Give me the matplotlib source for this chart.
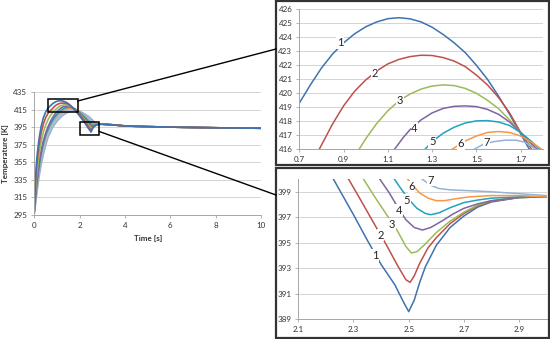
import matplotlib
matplotlib.use('Agg')
import matplotlib.pyplot as plt
from matplotlib.patches import Rectangle
from matplotlib.lines import Line2D

plt.rcParams['font.family'] = ['Lato', 'DejaVu Sans']

# ---------------- data ----------------
t1 = [0, 0.05, 0.1, 0.15, 0.2, 0.3, 0.4, 0.5, 0.6, 0.7, 0.75, 0.8, 0.85, 0.9, 0.95, 1.0, 1.05, 1.1, 1.15,
      1.2, 1.25, 1.3, 1.35, 1.4, 1.45, 1.5, 1.55, 1.6, 1.65, 1.7, 1.75, 1.8, 1.9, 2.0, 2.1, 2.227, 2.3,
      2.35, 2.4, 2.45, 2.48, 2.5, 2.52, 2.54, 2.56, 2.6, 2.65, 2.7, 2.75, 2.8, 2.9, 3.0, 3.5, 4, 5, 6, 8, 10]
T1 = [301, 335, 356, 369, 380, 396, 406, 412.5, 416.8, 419.3, 420.6, 421.8, 422.8, 423.6, 424.25, 424.75,
      425.1, 425.33, 425.4, 425.32, 425.1, 424.72, 424.2, 423.6, 422.9, 422.0, 421.0, 419.8, 418.5, 417.1,
      415.7, 414.3, 411.2, 408.0, 404.6, 400, 397.2, 395.2, 393.3, 391.7, 390.4, 389.6, 390.5, 391.9,
      393.1, 394.8, 396.2, 397.1, 397.8, 398.2, 398.55, 398.6, 397.8, 396.6, 395.8, 395.3, 394.5, 394.0]

t2 = [0, 0.05, 0.1, 0.2, 0.3, 0.4, 0.5, 0.6, 0.7, 0.79, 0.85, 0.9, 0.95, 1.0, 1.05, 1.1, 1.15, 1.2, 1.25,
      1.3, 1.35, 1.4, 1.45, 1.5, 1.55, 1.6, 1.65, 1.7, 1.75, 1.8, 1.9, 2.0, 2.1, 2.2, 2.282, 2.33, 2.38,
      2.42, 2.46, 2.49, 2.505, 2.52, 2.54, 2.57, 2.6, 2.65, 2.7, 2.75, 2.8, 2.9, 3.0, 3.5, 4, 5, 6, 8, 10]
T2 = [300.5, 332, 350, 373, 388.5, 399, 406, 410.8, 414, 416, 417.8, 419.1, 420.15, 420.95, 421.6, 422.1,
      422.42, 422.62, 422.72, 422.7, 422.55, 422.3, 421.9, 421.3, 420.6, 419.7, 418.6, 417.2, 416.0, 414.7,
      412.5, 409.8, 406.5, 403.0, 400, 398.2, 396.3, 394.8, 393.2, 392.1, 391.9, 392.4, 393.4, 394.6,
      395.4, 396.5, 397.3, 397.9, 398.25, 398.55, 398.6, 397.8, 396.6, 395.8, 395.3, 394.5, 394.0]

t3 = [0, 0.05, 0.1, 0.2, 0.3, 0.4, 0.5, 0.6, 0.7, 0.8, 0.9, 0.97, 1.0, 1.05, 1.1, 1.15, 1.2, 1.25, 1.3,
      1.35, 1.4, 1.45, 1.5, 1.55, 1.6, 1.65, 1.7, 1.75, 1.8, 1.9, 2.0, 2.1, 2.2, 2.3, 2.336, 2.38, 2.42,
      2.46, 2.49, 2.51, 2.53, 2.56, 2.6, 2.65, 2.7, 2.75, 2.8, 2.9, 3.0, 3.5, 4, 5, 6, 8, 10]
T3 = [300, 324, 340, 362.5, 378.5, 389.5, 397.5, 403.5, 408, 411.6, 414.4, 416, 416.75, 417.85, 418.75,
      419.45, 419.95, 420.3, 420.52, 420.6, 420.55, 420.35, 420.0, 419.5, 418.9, 418.1, 417.2, 416.3, 415.3,
      412.9, 410.3, 407.5, 404.6, 401.5, 400, 398.5, 397.2, 395.9, 394.7, 394.2, 394.3, 394.9, 395.8,
      396.7, 397.4, 397.95, 398.3, 398.55, 398.6, 397.8, 396.6, 395.8, 395.3, 394.5, 394.0]

t4 = [0, 0.05, 0.1, 0.2, 0.3, 0.4, 0.5, 0.6, 0.7, 0.8, 0.9, 1.0, 1.13, 1.17, 1.2, 1.25, 1.3, 1.35, 1.4,
      1.45, 1.5, 1.55, 1.6, 1.65, 1.7, 1.75, 1.8, 1.9, 2.0, 2.1, 2.2, 2.3, 2.395, 2.43, 2.46, 2.49, 2.52,
      2.55, 2.58, 2.62, 2.66, 2.7, 2.75, 2.8, 2.9, 3.0, 3.5, 4, 5, 6, 8, 10]
T4 = [299.5, 316, 331, 352, 368, 379.5, 388.3, 395.3, 401, 405.8, 409.8, 413, 416, 416.85, 417.4, 418.1,
      418.6, 418.92, 419.07, 419.1, 419.05, 418.85, 418.5, 417.95, 417.2, 416.4, 415.6, 413.6, 411.3,
      408.8, 406.0, 403.1, 400, 398.9, 397.8, 396.8, 396.2, 396.0, 396.2, 396.7, 397.25, 397.7, 398.05,
      398.3, 398.55, 398.6, 397.8, 396.6, 395.8, 395.3, 394.5, 394.0]

t5 = [0, 0.05, 0.1, 0.2, 0.3, 0.4, 0.5, 0.6, 0.7, 0.8, 0.9, 1.0, 1.1, 1.2, 1.268, 1.3, 1.35, 1.4, 1.45,
      1.5, 1.55, 1.6, 1.65, 1.7, 1.75, 1.8, 1.9, 2.0, 2.1, 2.2, 2.3, 2.4, 2.448, 2.47, 2.5, 2.53, 2.56,
      2.58, 2.61, 2.65, 2.7, 2.75, 2.8, 2.9, 3.0, 3.5, 4, 5, 6, 8, 10]
T5 = [299, 314, 328, 349, 365, 377, 386, 393, 398.5, 403, 406.8, 410, 412.6, 414.8, 416, 416.55, 417.15,
      417.58, 417.88, 418.03, 418.05, 417.95, 417.7, 417.2, 416.55, 415.8, 414.0, 411.9, 409.5, 406.9,
      404.2, 401.5, 400, 399.3, 398.4, 397.7, 397.3, 397.2, 397.35, 397.75, 398.15, 398.35, 398.5, 398.6,
      398.6, 397.8, 396.6, 395.8, 395.3, 394.5, 394.0]

t6 = [0, 0.05, 0.1, 0.2, 0.3, 0.4, 0.5, 0.6, 0.7, 0.8, 0.9, 1.0, 1.1, 1.2, 1.3, 1.39, 1.45, 1.5, 1.55,
      1.6, 1.65, 1.7, 1.75, 1.8, 1.9, 2.0, 2.1, 2.2, 2.3, 2.4, 2.496, 2.51, 2.54, 2.57, 2.6, 2.63, 2.67,
      2.72, 2.8, 2.9, 3.0, 3.5, 4, 5, 6, 8, 10]
T6 = [298.5, 312.5, 326.5, 347.5, 364, 376, 385.2, 392.3, 398, 402.6, 406.4, 409.4, 411.8, 413.6, 415,
      416, 416.6, 416.95, 417.2, 417.27, 417.2, 416.95, 416.5, 415.95, 414.4, 412.5, 410.3, 407.9, 405.4,
      402.8, 400, 399.6, 398.9, 398.5, 398.3, 398.3, 398.45, 398.6, 398.7, 398.7, 398.6, 397.8, 396.6,
      395.8, 395.3, 394.5, 394.0]

t7 = [0, 0.05, 0.1, 0.2, 0.3, 0.4, 0.5, 0.6, 0.7, 0.8, 0.9, 1.0, 1.1, 1.2, 1.3, 1.4, 1.49, 1.53, 1.58,
      1.63, 1.68, 1.72, 1.76, 1.8, 1.9, 2.0, 2.1, 2.2, 2.3, 2.4, 2.5, 2.548, 2.58, 2.61, 2.65, 2.7, 2.8,
      2.9, 3.0, 3.5, 4, 5, 6, 8, 10]
T7 = [298, 311, 325, 346, 362.5, 374.5, 383.5, 390.5, 396.2, 400.8, 404.7, 407.8, 410.3, 412.3, 413.9,
      415.1, 416, 416.35, 416.55, 416.65, 416.65, 416.5, 416.1, 415.6, 414.1, 412.4, 410.4, 408.3, 406.1,
      403.8, 401.3, 400, 399.5, 399.25, 399.15, 399.1, 399.0, 398.85, 398.7, 397.8, 396.6, 395.8, 395.3,
      394.5, 394.0]

# additional (unlabelled) runs visible only in the overview chart
t_extra = [0, 0.05, 0.1, 0.2, 0.3, 0.4, 0.5, 0.6, 0.8, 1.0, 1.2, 1.4, 1.6, 1.8, 2.0, 2.2, 2.4, 2.6,
           2.7, 2.8, 2.9, 3.0, 3.5, 4, 5, 6, 8, 10]
T8 = [297.5, 309.5, 322.5, 343, 359, 371, 380.5, 388, 398.5, 405.7, 410.6, 413.6, 415.2, 415.4, 413.4,
      410, 406, 400.8, 399.1, 399.0, 398.85, 398.7, 397.8, 396.6, 395.8, 395.3, 394.5, 394.0]
T9 = [297, 308, 320, 340, 355.5, 367.5, 377.5, 385.5, 396.5, 403.8, 409.0, 412.3, 414.2, 414.7, 413.2,
      410.4, 406.8, 401.8, 399.1, 399.0, 398.85, 398.7, 397.8, 396.6, 395.8, 395.3, 394.5, 394.0]
T10 = [296.5, 306.5, 317.5, 337, 352, 364, 374.5, 383, 394.5, 402, 407.5, 411.1, 413.3, 414.1, 413.0,
       410.6, 407.4, 402.6, 399.1, 399.0, 398.85, 398.7, 397.8, 396.6, 395.8, 395.3, 394.5, 394.0]

labels = ['1', '2', '3', '4', '5', '6', '7']
colors = ['#3f73ad', '#c0504d', '#9bbb59', '#8064a2', '#1fa3bd', '#f79646', '#95b3d7']
extra_colors = ['#a7bcd6', '#b2c4dc', '#9fb3cc']

# label positions on the curves in the two zoom panels
top_lab_x = [0.884, 1.04, 1.155, 1.22, 1.30, 1.43, 1.545]
top_lab_y = [423.6, 421.4, 419.5, 417.5, 416.55, 416.4, 416.45]
bot_lab_x = [2.379, 2.397, 2.439, 2.464, 2.494, 2.51, 2.579]
bot_lab_y = [394.0, 395.6, 396.45, 397.55, 398.35, 399.4, 399.9]

main_xticks = [0, 2, 4, 6, 8, 10]
main_yticks = [295, 315, 335, 355, 375, 395, 415, 435]
top_xticks = [0.7, 0.9, 1.1, 1.3, 1.5, 1.7]
top_yticks = list(range(416, 427))
bot_xticks = [2.1, 2.3, 2.5, 2.7, 2.9]
bot_yticks = [389, 391, 393, 395, 397, 399]

# zoom windows drawn on the overview (data units)
box1 = (0.62, 412.2, 1.29, 15.2)
box2 = (2.02, 386.3, 0.85, 15.2)

series = [(t1, T1), (t2, T2), (t3, T3), (t4, T4), (t5, T5), (t6, T6), (t7, T7)]
extras = [(t_extra, T8), (t_extra, T9), (t_extra, T10)]

# ---------------- figure ----------------
W, H = 550, 339
fig = plt.figure(figsize=(W / 100, H / 100), dpi=100)

def fx(px):
    return px / W

def fy(py):
    return 1 - py / H

ax_main = fig.add_axes([fx(34.3), fy(215), fx(261) - fx(34.3), fy(92.3) - fy(215)])
ax_top = fig.add_axes([fx(299.3), fy(149.3), fx(542.8) - fx(299.3), fy(9.3) - fy(149.3)])
ax_bot = fig.add_axes([fx(298.3), fy(319.3), fx(546.7) - fx(298.3), fy(179) - fy(319.3)])

axis_col = '#a6a6a6'
grid_col = '#d4d4d4'
txt_col = '#333333'

def style(ax, fs):
    for s in ['top', 'right']:
        ax.spines[s].set_visible(False)
    for s in ['left', 'bottom']:
        ax.spines[s].set_color(axis_col)
        ax.spines[s].set_linewidth(0.7)
    ax.grid(axis='y', color=grid_col, linewidth=0.7)
    ax.set_axisbelow(True)
    ax.tick_params(length=2.5, width=0.6, color=axis_col, labelsize=fs,
                   labelcolor=txt_col, pad=2.5)

# overview
for (tt, TT), c in zip(extras, extra_colors):
    ax_main.plot(tt, TT, color=c, lw=1.2, solid_capstyle='round')
for (tt, TT), c in zip(series[::-1], colors[::-1]):
    ax_main.plot(tt, TT, color=c, lw=1.2, solid_capstyle='round')
ax_main.set_xlim(0, 10)
ax_main.set_ylim(295, 435)
ax_main.set_xticks(main_xticks)
ax_main.set_yticks(main_yticks)
style(ax_main, 5.8)
ax_main.set_xlabel('Time [s]', fontsize=5.8, fontweight='bold', color=txt_col, labelpad=4)
ax_main.set_ylabel('Temperature [K]', fontsize=5.8, fontweight='bold', color=txt_col, labelpad=3)
for b in (box1, box2):
    ax_main.add_patch(Rectangle((b[0], b[1]), b[2], b[3], fill=False, ec='black', lw=1.1,
                                clip_on=False, zorder=5))

# zoom panels
for ax in (ax_top, ax_bot):
    for (tt, TT), c in zip(series, colors):
        ax.plot(tt, TT, color=c, lw=1.1, solid_joinstyle='round')

ax_top.set_xlim(0.7, 1.8)
ax_top.set_ylim(416, 426)
ax_top.set_xticks(top_xticks)
ax_top.set_xticklabels([f'{v:.1f}' for v in top_xticks])
ax_top.set_yticks(top_yticks)
style(ax_top, 5.8)

ax_bot.set_xlim(2.1, 3.0)
ax_bot.set_ylim(389, 400)
ax_bot.set_xticks(bot_xticks)
ax_bot.set_xticklabels([f'{v:.1f}' for v in bot_xticks])
ax_bot.set_yticks(bot_yticks)
style(ax_bot, 5.8)

for lab, x, y in zip(labels, top_lab_x, top_lab_y):
    ax_top.text(x, y, lab, fontsize=8, ha='center', va='center', color='#222222', zorder=6,
                bbox=dict(boxstyle='square,pad=0.05', fc='white', ec='none'))
for lab, x, y in zip(labels, bot_lab_x, bot_lab_y):
    ax_bot.text(x, y, lab, fontsize=8, ha='center', va='center', color='#222222', zorder=6,
                bbox=dict(boxstyle='square,pad=0.05', fc='white', ec='none'))

# panel frames
fig.add_artist(Rectangle((fx(276), fy(165)), fx(549) - fx(276), fy(0.8) - fy(165),
                         transform=fig.transFigure, fill=False, ec='#333333', lw=1.6))
fig.add_artist(Rectangle((fx(276), fy(337.5)), fx(549) - fx(276), fy(168) - fy(337.5),
                         transform=fig.transFigure, fill=False, ec='#333333', lw=1.6))

# connector lines
fig.add_artist(Line2D([fx(77.7), fx(276)], [fy(101), fy(49)], transform=fig.transFigure,
                      color='black', lw=1.0))
fig.add_artist(Line2D([fx(99.3), fx(276)], [fy(131.5), fy(195)], transform=fig.transFigure,
                      color='black', lw=1.0))

fig.savefig('out.png', dpi=100)
